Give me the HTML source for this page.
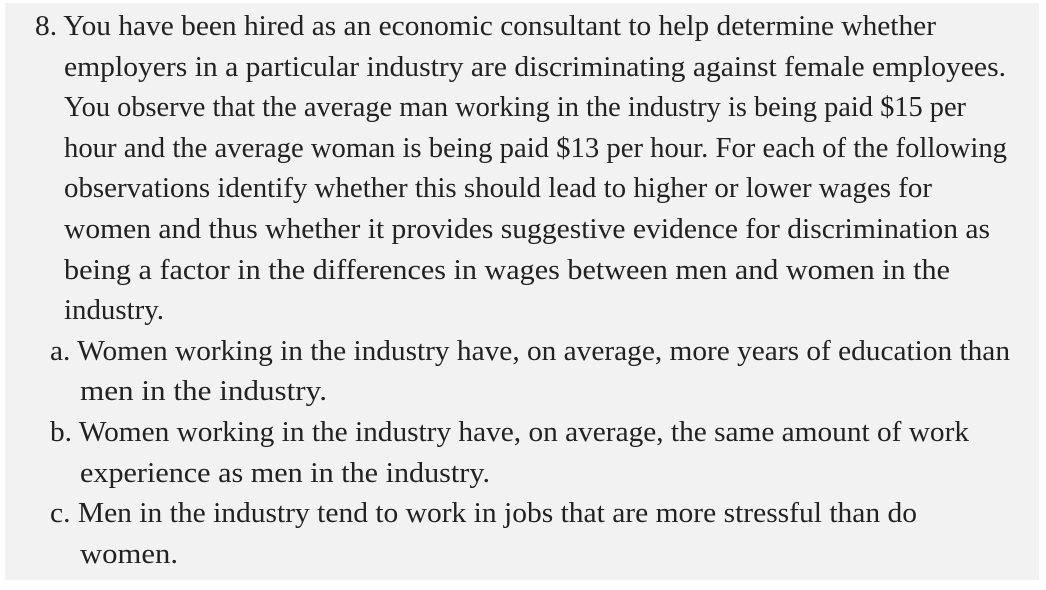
<!DOCTYPE html>
<html><head><meta charset="utf-8"><style>
html,body{margin:0;padding:0;background:#fff;width:1046px;height:590px;overflow:hidden}
svg{display:block}
text{font-family:"Liberation Serif",serif;font-size:28px;fill:#222}
</style></head><body>
<svg width="1046" height="590">
<rect x="5" y="3" width="1034" height="577" fill="#f2f2f2"/>
<g>
<text x="35" y="35" textLength="901" lengthAdjust="spacingAndGlyphs">8. You have been hired as an economic consultant to help determine whether</text>
<text x="64" y="76" textLength="942" lengthAdjust="spacingAndGlyphs">employers in a particular industry are discriminating against female employees.</text>
<text x="64" y="116" textLength="902" lengthAdjust="spacingAndGlyphs">You observe that the average man working in the industry is being paid $15 per</text>
<text x="64" y="157" textLength="943" lengthAdjust="spacingAndGlyphs">hour and the average woman is being paid $13 per hour. For each of the following</text>
<text x="64" y="197" textLength="868" lengthAdjust="spacingAndGlyphs">observations identify whether this should lead to higher or lower wages for</text>
<text x="64" y="238" textLength="926" lengthAdjust="spacingAndGlyphs">women and thus whether it provides suggestive evidence for discrimination as</text>
<text x="64" y="279" textLength="886" lengthAdjust="spacingAndGlyphs">being a factor in the differences in wages between men and women in the</text>
<text x="64" y="319" textLength="100" lengthAdjust="spacingAndGlyphs">industry.</text>
<text x="50" y="360" textLength="960" lengthAdjust="spacingAndGlyphs">a. Women working in the industry have, on average, more years of education than</text>
<text x="80" y="400" textLength="247" lengthAdjust="spacingAndGlyphs">men in the industry.</text>
<text x="50" y="441" textLength="919" lengthAdjust="spacingAndGlyphs">b. Women working in the industry have, on average, the same amount of work</text>
<text x="80" y="482" textLength="410" lengthAdjust="spacingAndGlyphs">experience as men in the industry.</text>
<text x="50" y="522" textLength="867" lengthAdjust="spacingAndGlyphs">c. Men in the industry tend to work in jobs that are more stressful than do</text>
<text x="80" y="563" textLength="98" lengthAdjust="spacingAndGlyphs">women.</text>
</g>
</svg>
</body></html>
